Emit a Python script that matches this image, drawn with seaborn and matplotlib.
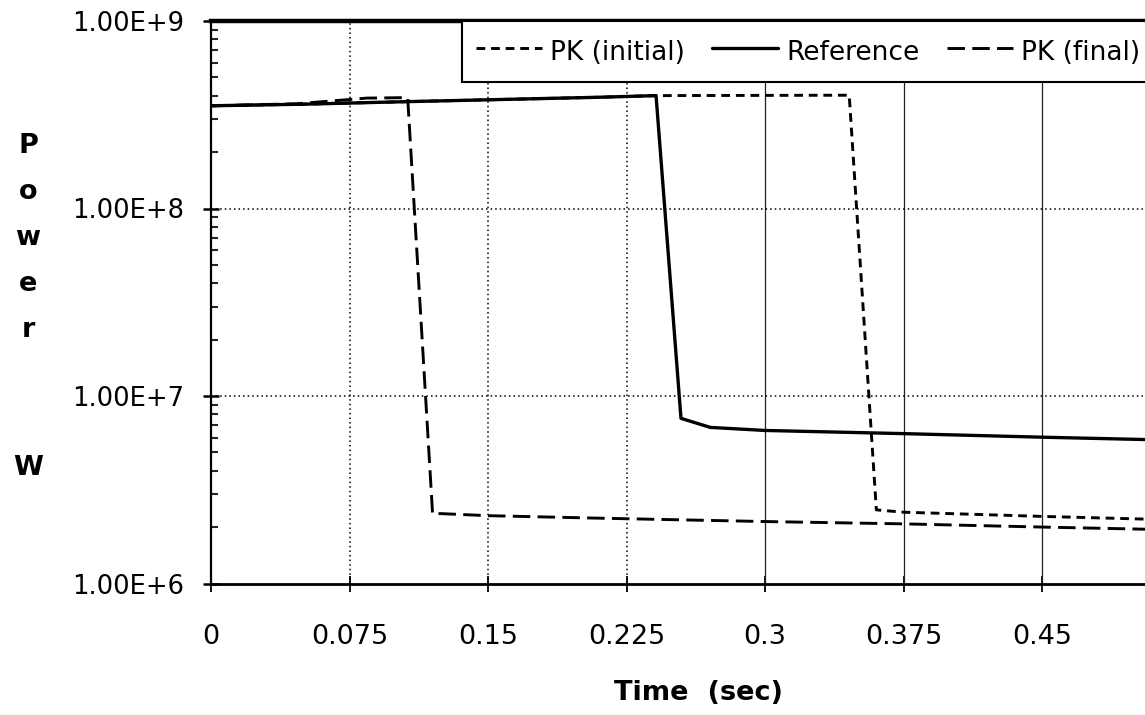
import numpy as np
import pandas as pd
import matplotlib
matplotlib.use("Agg")
import matplotlib.pyplot as plt
from matplotlib.ticker import FixedLocator, LogLocator, NullFormatter
import seaborn as sns

# Reactor power transients (W) versus time (s)
time_reference = [0.0, 0.05, 0.104, 0.15, 0.21, 0.241, 0.2545, 0.2704, 0.3, 0.375, 0.45, 0.525]
power_reference = [3.53e8, 3.60e8, 3.71e8, 3.80e8, 3.92e8, 4.00e8, 7.6e6, 6.8e6, 6.55e6, 6.3e6, 6.03e6, 5.8e6]

time_pk_initial = [0.0, 0.05, 0.104, 0.15, 0.21, 0.241, 0.3456, 0.3603, 0.375, 0.45, 0.525]
power_pk_initial = [3.53e8, 3.60e8, 3.71e8, 3.80e8, 3.92e8, 4.00e8, 4.02e8, 2.47e6, 2.40e6, 2.28e6, 2.18e6]

time_pk_final = [0.0, 0.0466, 0.0845, 0.104, 0.1065, 0.120, 0.124, 0.15, 0.2106, 0.3, 0.375, 0.45, 0.525]
power_pk_final = [3.53e8, 3.62e8, 3.88e8, 3.90e8, 3.90e8, 2.35e6, 2.36e6, 2.30e6, 2.23e6, 2.14e6, 2.08e6, 2.00e6, 1.93e6]

series_labels = ["PK (initial)", "Reference", "PK (final)"]

x_ticks = [0, 0.075, 0.15, 0.225, 0.3, 0.375, 0.45, 0.525, 0.6]
x_tick_labels = ["0", "0.075", "0.15", "0.225", "0.3", "0.375", "0.45", "", ""]
y_ticks = [1e6, 1e7, 1e8, 1e9]
y_tick_labels = ["1.00E+6", "1.00E+7", "1.00E+8", "1.00E+9"]

sns.set_style("white")
plt.rcParams["font.family"] = ["DejaVu Sans"]
plt.rcParams["text.color"] = "black"

W, H = 1145, 715
fig = plt.figure(figsize=(W / 100, H / 100), dpi=100)
fig.patch.set_facecolor("white")
ax = fig.add_axes([211 / W, (H - 583.5) / H, 1108 / W, (583.5 - 21) / H])

# grid: dotted in the early part, thin solid later on
for xt in x_ticks[1:-1]:
    if xt < 0.26:
        ax.axvline(xt, color="black", lw=1.1, ls=(0, (1, 2)), zorder=1)
    else:
        ax.axvline(xt, color="#222222", lw=0.9, zorder=1)
for yt in y_ticks[1:-1]:
    ax.axhline(yt, color="black", lw=1.1, ls=(0, (1, 2)), zorder=1)

df_fin = pd.DataFrame({"time": time_pk_final, "power": power_pk_final})
df_ini = pd.DataFrame({"time": time_pk_initial, "power": power_pk_initial})
df_ref = pd.DataFrame({"time": time_reference, "power": power_reference})

sns.lineplot(data=df_fin, x="time", y="power", ax=ax, color="black", lw=2.1,
             linestyle=(0, (6, 2.5)), sort=False, estimator=None, zorder=3)
h_fin = ax.lines[-1]
sns.lineplot(data=df_ini, x="time", y="power", ax=ax, color="black", lw=2.1,
             linestyle=(0, (3, 2)), sort=False, estimator=None, zorder=3)
h_ini = ax.lines[-1]
sns.lineplot(data=df_ref, x="time", y="power", ax=ax, color="black", lw=2.4,
             sort=False, estimator=None, zorder=4)
h_ref = ax.lines[-1]

ax.set_yscale("log")
ax.set_xlim(0, 0.6)
ax.set_ylim(1e6, 1e9)
ax.set_xticks(x_ticks)
ax.set_xticklabels(x_tick_labels)
ax.yaxis.set_major_locator(FixedLocator(y_ticks))
ax.set_yticklabels(y_tick_labels)
ax.yaxis.set_minor_locator(LogLocator(base=10, subs=np.arange(2, 10)))
ax.yaxis.set_minor_formatter(NullFormatter())
ax.set_xlabel("")
ax.set_ylabel("")

ax.tick_params(axis="y", which="major", left=True, direction="inout", length=11,
               width=1.8, pad=14, labelsize=18.6, colors="black")
ax.tick_params(axis="y", which="minor", left=True, direction="in", length=5, width=1.5)
ax.tick_params(axis="x", which="major", bottom=True, direction="inout", length=11,
               width=1.3, pad=24, labelsize=19.5, colors="black")
ax.tick_params(axis="x", which="minor", bottom=False)

for side, lw in (("top", 3.2), ("bottom", 2.0), ("left", 1.6), ("right", 1.6)):
    ax.spines[side].set_color("black")
    ax.spines[side].set_linewidth(lw)

leg = ax.legend(handles=[h_ini, h_ref, h_fin], labels=series_labels, ncol=3,
                loc="upper left", bbox_to_anchor=(462 / W, 1 - 21 / H),
                bbox_transform=fig.transFigure, borderaxespad=0, frameon=True,
                fancybox=False, framealpha=1, edgecolor="black", fontsize=19,
                labelcolor="black", handlelength=2.5, handleheight=1.6,
                handletextpad=0.3, columnspacing=1.05, borderpad=0.52)
leg.get_frame().set_linewidth(1.5)
leg.set_zorder(6)

fig.text(699 / W, 1 - 693 / H, "Time  (sec)", ha="center", va="center",
         fontsize=19.5, fontweight="bold", color="black")
fig.text(28 / W, 1 - 307 / H, "P\no\nw\ne\nr\n\n\nW", ha="center", va="center",
         fontsize=19.5, fontweight="bold", linespacing=2.0, multialignment="center",
         color="black")

fig.savefig("out.png", dpi=100, facecolor="white")
